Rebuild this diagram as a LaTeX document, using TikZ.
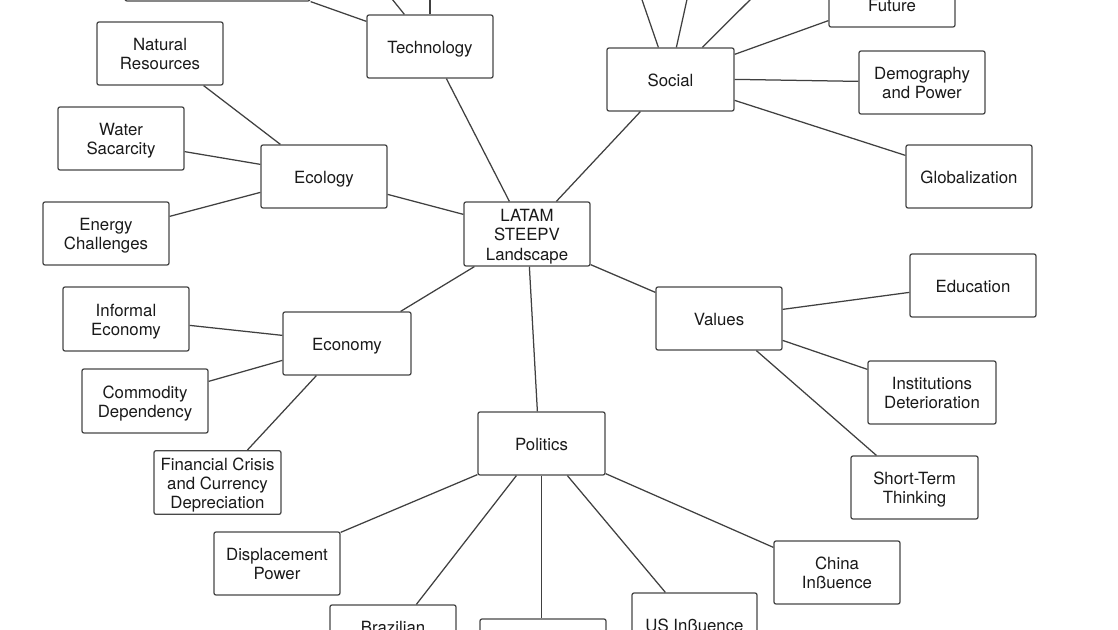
\documentclass[tikz,border=0pt]{standalone}
\usepackage{fontspec}
\setmainfont{TeX Gyre Heros}
\usetikzlibrary{calc}
\definecolor{boxgray}{HTML}{474747}
\definecolor{linegray}{HTML}{404040}
\definecolor{txt}{HTML}{1A1A1A}
\newcommand{\fl}{\rule{0pt}{19.4pt}}
\begin{document}
\begin{tikzpicture}[x=1pt,y=-1pt,
  box/.style={draw=boxgray, line width=1.25pt, rounded corners=2pt, fill=white,
    minimum width=126pt, minimum height=63pt, inner sep=0pt, align=center,
    font=\fontsize{16.8}{19.2}\selectfont, text=txt,
    execute at end node={\rule[-5.8pt]{0pt}{5.8pt}}},
  link/.style={draw=linegray, line width=1.25pt}]
\useasboundingbox (0,0) rectangle (1118,629);
\fill[white] (0,0) rectangle (1118,629);
\clip (0,0) rectangle (1118,629);

% nodes
\node[box, minimum width=185pt] (topbox) at (217.5,-30.5) {};
\node[box] (tech) at (430,46.5) {\fl Technology};
\node[box] (natres) at (160,53.5) {\fl Natural\\Resources};
\node[box] (water) at (121,138.5) {\fl Water\\Sacarcity};
\node[box] (eco) at (324,176.5) {\fl Ecology};
\node[box] (energy) at (106,233.5) {\fl Energy\\Challenges};
\node[box, minimum height=64pt] (latam) at (527,234) {\fl LATAM\\STEEPV\\Landscape};
\node[box, minimum width=127pt] (social) at (670.5,79.5) {\fl Social};
\node[box] (future) at (892,-4.5) {\fl\phantom{Future}\\Future};
\node[box] (demog) at (922,82.5) {\fl Demography\\and Power};
\node[box] (glob) at (969,176.5) {\fl Globalization};
\node[box] (values) at (719,318.5) {\fl Values};
\node[box] (educ) at (973,285.5) {\fl Education};
\node[box, minimum width=128pt] (inst) at (932,392.5) {\fl Institutions\\Deterioration};
\node[box, minimum width=127pt] (short) at (914.5,487.5) {\fl Short-Term\\Thinking};
\node[box, minimum width=127pt] (pol) at (541.5,443.5) {\fl Politics};
\node[box] (china) at (837,572.5) {\fl China\\Inßuence};
\node[box] (displ) at (277,563.5) {\fl Displacement\\Power};
\node[box] (brazil) at (393,636.5) {\fl Brazilian\\\phantom{Brazilian}};
\node[box] (mid) at (543,650.5) {};
\node[box, minimum width=125pt] (us) at (694.5,624.5) {\fl US Inßuence};
\node[box, minimum width=128pt] (econ) at (347,343.5) {\fl Economy};
\node[box, minimum height=64pt] (informal) at (126,319) {\fl Informal\\Economy};
\node[box, minimum height=64pt] (commod) at (145,401) {\fl Commodity\\Dependency};
\node[box, minimum width=127pt] (fin) at (217.5,482.5) {\fl Financial Crisis\\and Currency\\Depreciation};

% off-page ends
\coordinate (t1) at (388,-6);
\coordinate (t2) at (430,-6);
\coordinate (s1) at (640,-6);
\coordinate (s2) at (688.2,-6);
\coordinate (s3) at (755.9,-6);

% connectors
\draw[link] ($(tech.north west)+(0,7)$) -- (topbox.south east);
\draw[link] ($(tech.north west)+(38,0)$) -- (t1);
\draw[link] (tech.north) -- (t2);
\draw[link] ($(eco.north west)+(20,0)$) -- ($(natres.south east)+(-20,0)$);
\draw[link] ($(eco.north west)+(0,20)$) -- ($(water.south east)+(0,-19)$);
\draw[link] ($(eco.north west)+(0,48)$) -- ($(energy.north east)+(0,15)$);
\draw[link] ($(eco.north east)+(0,50)$) -- ($(latam.north west)+(0,13)$);
\draw[link] ($(latam.north west)+(46,0)$) -- ($(tech.south west)+(80,0)$);
\draw[link] ($(latam.north west)+(93,0)$) -- ($(social.south west)+(34,0)$);
\draw[link] ($(latam.south east)+(0,-2)$) -- ($(values.north west)+(0,6)$);
\draw[link] ($(latam.south west)+(11,0)$) -- ($(econ.north east)+(-11,0)$);
\draw[link] ($(latam.south west)+(66,0)$) -- ($(pol.north west)+(60,0)$);
\draw[link] ($(social.north west)+(52,0)$) -- (s1);
\draw[link] ($(social.north west)+(70,0)$) -- (s2);
\draw[link] ($(social.north west)+(96,0)$) -- (s3);
\draw[link] ($(social.north east)+(0,7)$) -- ($(future.south west)+(0,-7)$);
\draw[link] ($(social.north east)+(0,32)$) -- ($(demog.north west)+(0,31)$);
\draw[link] ($(social.north east)+(0,53)$) -- ($(glob.north west)+(0,11)$);
\draw[link] ($(values.north east)+(0,23)$) -- ($(educ.north west)+(0,39)$);
\draw[link] ($(values.north east)+(0,54)$) -- ($(inst.north west)+(0,9)$);
\draw[link] ($(values.south west)+(101,0)$) -- ($(short.north west)+(26,0)$);
\draw[link] ($(econ.north west)+(0,24)$) -- ($(informal.north east)+(0,39)$);
\draw[link] ($(econ.north west)+(0,49)$) -- ($(commod.north east)+(0,13)$);
\draw[link] ($(econ.south west)+(34,0)$) -- ($(fin.north west)+(94,0)$);
\draw[link] ($(pol.south east)+(0,-2)$) -- ($(china.north west)+(0,7)$);
\draw[link] ($(pol.south west)+(0,-1)$) -- ($(displ.north east)+(0,1)$);
\draw[link] ($(pol.south west)+(39,0)$) -- ($(brazil.north west)+(87,0)$);
\draw[link] ($(pol.south west)+(64,0)$) -- ($(mid.north west)+(62,0)$);
\draw[link] ($(pol.south west)+(90,0)$) -- ($(us.north west)+(34,0)$);
\end{tikzpicture}
\end{document}
